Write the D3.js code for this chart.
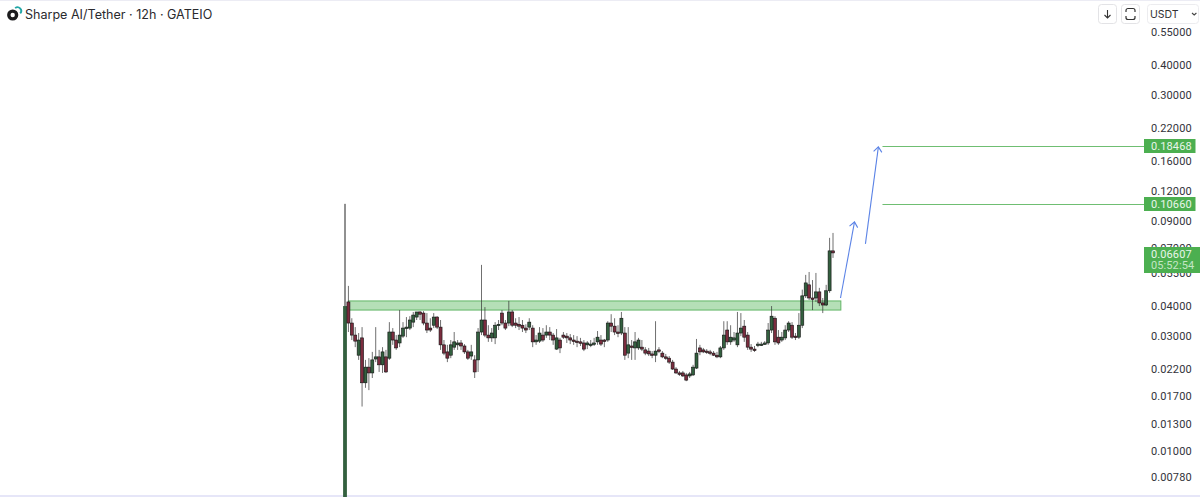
<!DOCTYPE html>
<html><head><meta charset="utf-8">
<script src="https://cdn.jsdelivr.net/npm/d3@7"></script>
<style>html,body{margin:0;padding:0;background:#fff;overflow:hidden}svg{display:block}text{font-family:Inter,"Liberation Sans",sans-serif}</style>
</head><body><svg id="c" width="1200" height="497"></svg>
<script>
const title = "Sharpe AI/Tether · 12h · GATEIO";
const tickValues = [0.55,0.40,0.30,0.22,0.16,0.12,0.09,0.07,0.055,0.04,0.03,0.022,0.017,0.013,0.01,0.0078];
const opens = [
.0060,.0416,.0340,.0303,.0250,.0295,.0192,.0223,.0211,.0241,
.0246,.0228,.0246,.0243,.0312,.0289,.0281,.0300,.0324,.0324,
.0343,.0360,.0378,.0374,.0340,.0324,.0333,.0360,.0327,.0276,
.0258,.0250,.0270,.0276,.0281,.0273,.0258,.0248,.0239,.0239,
.0312,.0350,.0303,.0295,.0295,.0333,.0374,.0340,.0340,.0378,
.0340,.0336,.0333,.0324,.0327,.0324,.0284,.0286,.0303,.0303,
.0312,.0303,.0265,.0289,.0303,.0300,.0295,.0289,.0286,.0284,
.0281,.0276,.0276,.0278,.0284,.0289,.0289,.0289,.0340,.0330,
.0312,.0309,.0309,.0255,.0273,.0268,.0268,.0270,.0263,.0260,
.0253,.0250,.0263,.0255,.0246,.0243,.0234,.0219,.0211,.0211,
.0207,.0205,.0207,.0221,.0268,.0263,.0260,.0258,.0255,.0250,
.0246,.0268,.0318,.0284,.0289,.0276,.0309,.0330,.0303,.0270,
.0265,.0276,.0276,.0278,.0281,.0318,.0356,.0297,.0289,.0295,
.0318,.0333,.0300,.0297,.0333,.0441,.0490,.0432,.0432,.0458,
.0412,.0404,.0463,.0678];
const closes = [
.0400,.0340,.0303,.0286,.0289,.0192,.0223,.0211,.0239,.0246,
.0228,.0258,.0213,.0312,.0289,.0268,.0303,.0324,.0327,.0350,
.0367,.0378,.0370,.0340,.0318,.0318,.0360,.0327,.0276,.0255,
.0243,.0276,.0284,.0281,.0273,.0258,.0243,.0258,.0213,.0312,
.0350,.0303,.0295,.0309,.0333,.0336,.0340,.0324,.0378,.0333,
.0333,.0330,.0324,.0318,.0343,.0284,.0289,.0309,.0289,.0312,
.0303,.0289,.0295,.0268,.0297,.0295,.0289,.0286,.0284,.0281,
.0265,.0281,.0278,.0281,.0297,.0278,.0286,.0340,.0330,.0312,
.0309,.0356,.0250,.0276,.0270,.0284,.0289,.0265,.0255,.0253,
.0250,.0260,.0260,.0246,.0243,.0234,.0219,.0211,.0209,.0205,
.0197,.0209,.0223,.0255,.0258,.0258,.0258,.0255,.0250,.0246,
.0268,.0303,.0284,.0297,.0295,.0309,.0324,.0297,.0270,.0265,
.0263,.0278,.0278,.0281,.0318,.0363,.0284,.0281,.0297,.0318,
.0340,.0297,.0297,.0333,.0441,.0499,.0432,.0428,.0458,.0412,
.0404,.0463,.0678,.0665];
const highs = [
.1063,.0485,.0356,.0327,.0309,.0327,.0239,.0243,.0258,.0327,
.0263,.0270,.0263,.0343,.0324,.0303,.0385,.0343,.0360,.0363,
.0378,.0378,.0381,.0381,.0374,.0356,.0374,.0363,.0350,.0289,
.0276,.0289,.0312,.0289,.0289,.0278,.0263,.0276,.0250,.0324,
.0593,.0396,.0333,.0324,.0343,.0350,.0385,.0350,.0420,.0385,
.0356,.0360,.0350,.0336,.0356,.0333,.0303,.0327,.0324,.0333,
.0327,.0309,.0321,.0295,.0312,.0309,.0306,.0303,.0300,.0295,
.0289,.0286,.0289,.0295,.0315,.0303,.0292,.0346,.0370,.0356,
.0333,.0378,.0327,.0327,.0289,.0312,.0295,.0289,.0270,.0268,
.0260,.0346,.0270,.0260,.0253,.0248,.0239,.0223,.0215,.0215,
.0211,.0213,.0228,.0292,.0276,.0268,.0265,.0263,.0260,.0258,
.0273,.0346,.0346,.0333,.0312,.0378,.0374,.0350,.0312,.0278,
.0273,.0284,.0284,.0286,.0340,.0400,.0363,.0318,.0312,.0333,
.0346,.0343,.0309,.0374,.0468,.0539,.0554,.0513,.0549,.0476,
.0432,.0490,.0768,.0805];
const lows = [
.0060,.0312,.0289,.0270,.0239,.0153,.0183,.0179,.0201,.0234,
.0213,.0211,.0211,.0239,.0276,.0263,.0270,.0295,.0297,.0318,
.0327,.0350,.0350,.0333,.0309,.0312,.0324,.0321,.0263,.0250,
.0234,.0243,.0263,.0263,.0263,.0253,.0239,.0239,.0201,.0213,
.0303,.0297,.0284,.0284,.0278,.0318,.0333,.0318,.0330,.0327,
.0324,.0318,.0312,.0309,.0318,.0270,.0276,.0281,.0284,.0295,
.0289,.0276,.0263,.0255,.0292,.0281,.0278,.0276,.0270,.0273,
.0260,.0265,.0270,.0273,.0276,.0273,.0270,.0284,.0312,.0303,
.0297,.0303,.0239,.0243,.0239,.0239,.0263,.0260,.0250,.0248,
.0243,.0234,.0255,.0243,.0239,.0230,.0217,.0209,.0205,.0203,
.0195,.0201,.0205,.0219,.0250,.0255,.0253,.0250,.0248,.0243,
.0243,.0263,.0276,.0276,.0284,.0270,.0300,.0284,.0263,.0258,
.0258,.0270,.0273,.0276,.0276,.0309,.0276,.0276,.0284,.0289,
.0312,.0292,.0289,.0292,.0324,.0432,.0424,.0385,.0416,.0400,
.0374,.0400,.0454,.0634];
const zoneTop = 0.0420, zoneBottom = 0.0385, zoneStart = 1, zoneEnd = 145.3;
const targets = [0.18468, 0.1066];
const targetLabels = ["0.18468", "0.10660"];
const targetStart = 157.5;
const lastPrice = 0.06607, lastLabel = "0.06607", countdown = "05:52:54";
const arrow1 = [[145.2,0.0432],[149.3,0.0894]];
const arrow2 = [[152.5,0.0725],[156.3,0.1833]];
const currency = "USDT";

const svg = d3.select("#c");
const y = d3.scaleLog().domain([0.55,0.01]).range([32,451]);
const x = d3.scaleLinear().domain([0,143]).range([345,833]);
const W = 1200;
const axisFont = "Roboto,'Liberation Sans',sans-serif";

svg.append("rect").attr("x",0).attr("y",0).attr("width",W).attr("height",1).attr("fill","#ececf4");
svg.append("rect").attr("x",0).attr("y",495).attr("width",W).attr("height",2).attr("fill","#e6e6f8");

// header
const logo = svg.append("g");
logo.append("circle").attr("cx",12.7).attr("cy",15).attr("r",3.9).attr("fill","none").attr("stroke","#1c1c1e").attr("stroke-width",3.4);
logo.append("path").attr("d",d3.arc()({innerRadius:2.8,outerRadius:4.6,startAngle:-0.7,endAngle:2.3})).attr("transform","translate(17.5,11)").attr("fill","#22a6a6");
svg.append("text").attr("x",25).attr("y",18.5).attr("font-size",12.55).attr("fill","#2a2a2e").text(title);

// buttons
function btn(bx,bw){return svg.append("rect").attr("x",bx+.5).attr("y",4.5).attr("width",bw).attr("height",19).attr("rx",3).attr("fill","#fff").attr("stroke","#e3e3e6");}
btn(1098,18); btn(1121,18);
svg.append("rect").attr("x",1147.5).attr("y",4.5).attr("width",51).attr("height",19).attr("rx",3).attr("fill","#fff").attr("stroke","#ececef");
svg.append("path").attr("d","M1107.5 10v8M1104.5 15l3 3 3-3").attr("fill","none").attr("stroke","#333").attr("stroke-width",1.1);
svg.append("path").attr("d","M1126 12v-1.5a2 2 0 0 1 2-2h5a2 2 0 0 1 2 2v1.5M1126 16v1.5a2 2 0 0 0 2 2h5a2 2 0 0 0 2-2v-1.5").attr("fill","none").attr("stroke","#333").attr("stroke-width",1.2);
svg.append("text").attr("x",1150).attr("y",18).attr("font-size",10.5).attr("fill","#333").text(currency);
svg.append("path").attr("d","M1192 13l2.2 2 2.2-2").attr("fill","none").attr("stroke","#444").attr("stroke-width",1.1);

// axis
const axis = d3.axisRight(y).tickValues(tickValues).tickSize(0).tickPadding(0).tickFormat(d3.format(".5f"));
const ax = svg.append("g").attr("transform","translate(1151,0)").call(axis);
ax.select(".domain").remove();
ax.selectAll("text").attr("font-size",11).attr("fill","#33333a").attr("letter-spacing",".1").style("font-family",axisFont);

// zone
svg.append("rect").attr("x",x(zoneStart)).attr("y",y(zoneTop)).attr("width",x(zoneEnd)-x(zoneStart)).attr("height",y(zoneBottom)-y(zoneTop))
  .attr("fill","#b5dfb7").attr("stroke","#62b566").attr("stroke-width",1);

// candles
const bars = opens.map((o,i)=>({i,o,c:closes[i],h:highs[i],l:lows[i]}));
const g = svg.append("g");
g.selectAll("line").data(bars).join("line")
  .attr("x1",d=>x(d.i)).attr("x2",d=>x(d.i)).attr("y1",d=>y(d.h)).attr("y2",d=>Math.min(y(d.l),497))
  .attr("stroke",d=>d.i===0?"#222":"#333").attr("stroke-width",1).attr("stroke-opacity",d=>d.i===0?1:.7);
g.selectAll("rect").data(bars).join("rect")
  .attr("x",d=>x(d.i)-(d.i===0?1.9:1.5)).attr("width",d=>d.i===0?3.8:3)
  .attr("y",d=>y(Math.max(d.o,d.c)))
  .attr("height",d=>Math.max(1.4,Math.min(497,y(Math.min(d.o,d.c)))-y(Math.max(d.o,d.c))))
  .attr("fill",d=>d.c>=d.o?"#33603f":"#7b2c3e")
  .attr("stroke",d=>d.i===0?"none":"#111").attr("stroke-width",.6);

// targets
const arrowColor = "#5b83e6";
targets.forEach((t,k)=>{
  const ty=Math.round(y(t));
  svg.append("line").attr("x1",x(targetStart)).attr("x2",1144).attr("y1",ty+.5).attr("y2",ty+.5).attr("stroke","#6fbe72").attr("stroke-width",1);
  svg.append("rect").attr("x",1144).attr("y",ty-7).attr("width",51.5).attr("height",14).attr("fill","#4caf50");
  svg.append("text").attr("x",1151).attr("y",ty+4).attr("font-size",11).attr("letter-spacing",".1").style("font-family",axisFont).attr("fill","#e8f5e9").text(targetLabels[k]);
});

// arrows
[arrow1,arrow2].forEach(a=>{
  const p=a.map(([i,v])=>[x(i),y(v)]);
  svg.append("path").attr("d",d3.line()(p)).attr("fill","none").attr("stroke",arrowColor).attr("stroke-width",1.1);
  const [tx,ty]=p[1]; const ang=Math.atan2(p[1][1]-p[0][1],p[1][0]-p[0][0]);
  const s=6.5;
  const hd=[[tx+s*Math.cos(ang+2.45),ty+s*Math.sin(ang+2.45)],[tx,ty],[tx+s*Math.cos(ang-2.45),ty+s*Math.sin(ang-2.45)]];
  svg.append("path").attr("d",d3.line()(hd)).attr("fill","none").attr("stroke",arrowColor).attr("stroke-width",1.1);
});

// last price
const ly=y(lastPrice);
svg.append("rect").attr("x",1144).attr("y",247).attr("width",56).attr("height",26).attr("fill","#4caf50");
svg.append("text").attr("x",1151).attr("y",ly+4).attr("font-size",11).attr("letter-spacing",".1").style("font-family",axisFont).attr("fill","#e8f5e9").text(lastLabel);
svg.append("text").attr("x",1151).attr("y",ly+15.5).attr("font-size",11).attr("letter-spacing",".1").style("font-family",axisFont).attr("fill","#c3e6c5").text(countdown);
</script></body></html>
